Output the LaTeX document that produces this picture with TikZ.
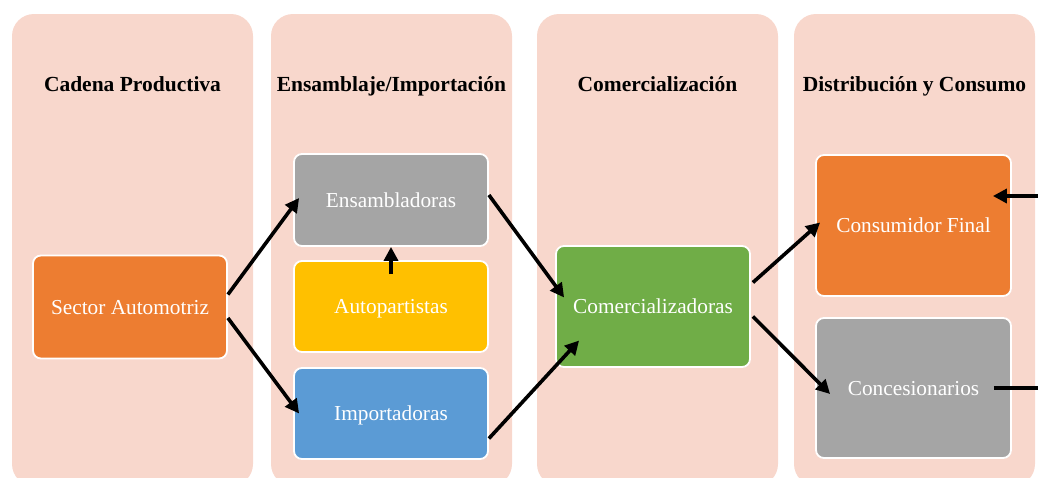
\documentclass[tikz,border=0pt]{standalone}
\usepackage{fontspec}
\setmainfont{Liberation Serif}
\usetikzlibrary{arrows.meta}
\definecolor{panelc}{HTML}{F8D7CC}
\definecolor{orangec}{HTML}{ED7D31}
\definecolor{grayc}{HTML}{A5A5A5}
\definecolor{yellowc}{HTML}{FFC000}
\definecolor{bluec}{HTML}{5B9BD5}
\definecolor{greenc}{HTML}{70AD47}
\begin{document}
\begin{tikzpicture}[x=1pt,y=-1pt,
  panel/.style={fill=panelc,draw=none,rounded corners=22pt},
  header/.style={font=\fontsize{21.5}{25}\selectfont\bfseries,text=black,
    text height=14.6pt,text depth=0pt,inner sep=0pt},
  box/.style={draw=white,line width=1.8pt,rounded corners=8pt,text=white,
    font=\fontsize{21.3}{25}\selectfont,inner sep=0pt,align=center,
    text height=14.2pt,text depth=0pt},
  conn/.style={line width=3.6pt,-{Triangle[length=14pt,width=14pt]}},
  plain/.style={line width=3.6pt}]
\useasboundingbox (0,0) rectangle (1038,477);
\begin{scope}
\clip (0,0) rectangle (1038,477);
\fill[panel] (12,14) rectangle (253,486);
\fill[panel] (271,14) rectangle (512,486);
\fill[panel] (537,14) rectangle (778,486);
\fill[panel] (794,14) rectangle (1035,486);

\node[header] (h1) at (132.5,84) {Cadena Productiva};
\node[header] (h2) at (391.5,84) {Ensamblaje/Importación};
\node[header] (h3) at (657.5,84) {Comercialización};
\node[header] (h4) at (914.5,84) {Distribución y Consumo};

\node[box,fill=orangec,minimum width=194pt,minimum height=103pt] (sector) at (130,307) {Sector Automotriz};
\node[box,fill=grayc,minimum width=194pt,minimum height=92pt] (ensam) at (391,200) {Ensambladoras};
\node[box,fill=yellowc,minimum width=194pt,minimum height=91pt] (autop) at (391,306.5) {Autopartistas};
\node[box,fill=bluec,minimum width=194pt,minimum height=91pt] (import) at (391,413.5) {Importadoras};
\node[box,fill=greenc,minimum width=194pt,minimum height=121pt] (comer) at (653,306.5) {Comercializadoras};
\node[box,fill=orangec,minimum width=195pt,minimum height=141pt] (cons) at (913.5,225.5) {Consumidor Final};
\node[box,fill=grayc,minimum width=195pt,minimum height=140pt] (conc) at (913.5,388) {Concesionarios};

\coordinate (r1) at (1040,196);
\coordinate (r2) at (1040,388);

\draw[conn] ([yshift=12.5pt]sector.east) -- ([xshift=6pt,yshift=2pt]ensam.west);
\draw[conn] ([yshift=-11pt]sector.east) -- ([xshift=6pt]import.west);
\draw[conn] ([yshift=5pt]ensam.east) -- ([xshift=9pt,yshift=9pt]comer.west);
\draw[conn] ([yshift=-25pt]import.east) -- ([xshift=24pt,yshift=-34pt]comer.west);
\draw[conn] ([yshift=-14pt]autop.north) -- (ensam.south);
\draw[conn] ([xshift=2pt,yshift=24pt]comer.east) -- ([xshift=5pt,yshift=3pt]cons.west);
\draw[conn] ([xshift=2pt,yshift=-10pt]comer.east) -- ([xshift=15pt,yshift=-6pt]conc.west);
\draw[conn] (r1) -- ([xshift=-19pt,yshift=29.5pt]cons.east);
\draw[plain] ([xshift=-18pt]conc.east) -- (r2);
\end{scope}
\end{tikzpicture}
\end{document}
